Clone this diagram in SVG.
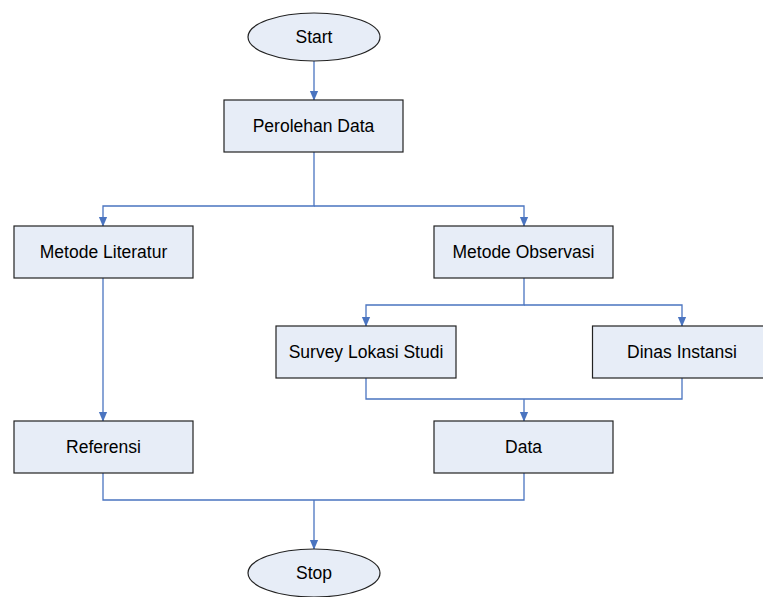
<svg xmlns="http://www.w3.org/2000/svg" width="763" height="597" viewBox="0 0 763 597">
<defs>
<marker id="a" markerWidth="10" markerHeight="12" refX="11" refY="5" orient="auto" markerUnits="userSpaceOnUse" viewBox="0 0 12 10">
<path d="M0,0 L12,5 L0,10 Z" fill="#4A74C0"/>
</marker>
</defs>
<style>
.n rect{fill:#E7EDF7;stroke:#222;stroke-width:1.2}
.n ellipse{fill:#E7EDF7;stroke:#222;stroke-width:1.2}
text{font-family:"Liberation Sans",Arial,sans-serif;font-size:17.5px;fill:#000;text-anchor:middle;dominant-baseline:central}
.c path{fill:none;stroke:#4A74C0;stroke-width:1.3}
</style>
<rect width="763" height="597" fill="#fff"/>
<g class="c">
<path d="M314,61 V100" marker-end="url(#a)"/>
<path d="M314,152 V206 H103 V226" marker-end="url(#a)"/>
<path d="M314,206 H524 V226" marker-end="url(#a)"/>
<path d="M524,278 V305 H366 V326" marker-end="url(#a)"/>
<path d="M524,305 H682 V326" marker-end="url(#a)"/>
<path d="M103,278 V421" marker-end="url(#a)"/>
<path d="M366,378 V399 H682 V378"/>
<path d="M524,399 V421" marker-end="url(#a)"/>
<path d="M103,473 V500 H524 V473"/>
<path d="M314,500 V549" marker-end="url(#a)"/>
</g>
<g id="start" class="n"><ellipse cx="314" cy="37" rx="66" ry="24"/><text x="314" y="37">Start</text></g>
<g id="perolehan" class="n"><rect x="224" y="100" width="179" height="52"/><text x="313.5" y="126">Perolehan Data</text></g>
<g id="literatur" class="n"><rect x="14" y="226" width="179" height="52"/><text x="103.5" y="252">Metode Literatur</text></g>
<g id="observasi" class="n"><rect x="434" y="226" width="179" height="52"/><text x="523.5" y="252">Metode Observasi</text></g>
<g id="survey" class="n"><rect x="276" y="326" width="180" height="52"/><text x="366" y="352">Survey Lokasi Studi</text></g>
<g id="dinas" class="n"><rect x="592.5" y="326" width="175" height="52"/><text x="682" y="352">Dinas Instansi</text></g>
<g id="referensi" class="n"><rect x="14" y="421" width="179" height="52"/><text x="103.5" y="447">Referensi</text></g>
<g id="data" class="n"><rect x="434" y="421" width="179" height="52"/><text x="523.5" y="447">Data</text></g>
<g id="stop" class="n"><ellipse cx="314" cy="573" rx="66" ry="24"/><text x="314" y="573">Stop</text></g>
</svg>
